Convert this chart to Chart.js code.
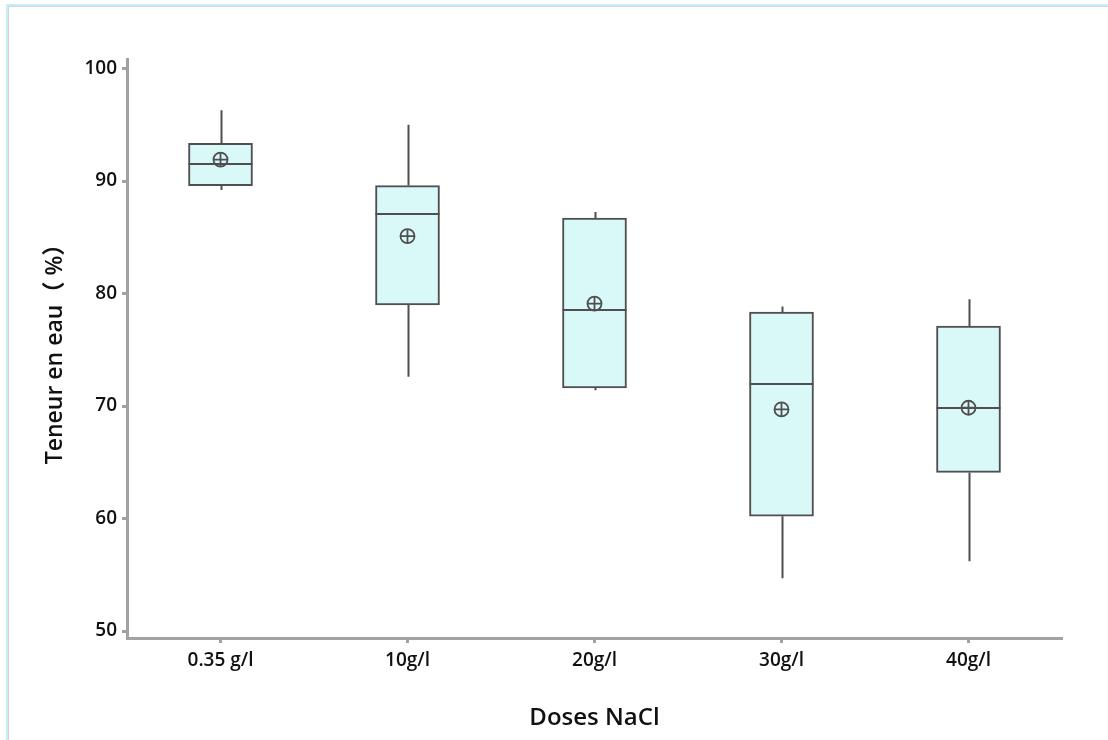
<!DOCTYPE html>
<html>
<head>
<meta charset="utf-8">
<script src="https://cdn.jsdelivr.net/npm/chart.js@4/dist/chart.umd.min.js"></script>
<style>
  html, body { margin: 0; padding: 0; background: #ffffff; overflow: hidden; }
  #wrap { position: relative; width: 1108px; height: 740px; }
  #frame { position: absolute; left: 6px; top: 4px; width: 1300px; height: 900px;
           border-left: 2px solid #c4eefa; border-top: 2px solid #c4eefa; }
  #frame2 { position: absolute; left: 8px; top: 6px; width: 1300px; height: 900px;
           border-left: 1px solid #d4d4d4; border-top: 1px solid #d4d4d4; }
  canvas { position: absolute; left: 0; top: 0; }
</style>
</head>
<body>
<div id="wrap">
  <div id="frame"></div>
  <div id="frame2"></div>
  <canvas id="c" width="1108" height="740"></canvas>
</div>
<script>
// ---- data ----
const categories = ['0.35 g/l', '10g/l', '20g/l', '30g/l', '40g/l'];
const whiskerMin = [89.2, 72.6, 71.4, 54.7, 56.2];
const q1Values   = [89.6, 79.0, 71.6, 60.2, 64.1];
const medians    = [91.5, 87.1, 78.5, 72.0, 69.8];
const q3Values   = [93.35, 89.6, 86.7, 78.35, 77.1];
const whiskerMax = [96.3, 95.0, 87.25, 78.85, 79.5];
const means      = [91.9, 85.1, 79.1, 69.7, 69.85];
const yTicks     = [50, 60, 70, 80, 90, 100];

const lineColor = '#4f4f4f';
const axisColor = '#a2a2a2';
const fontFamily = "'Open Sans', 'Noto Sans', 'Noto Sans CJK SC', sans-serif";

const boxPlugin = {
  id: 'boxExtras',
  beforeDatasetsDraw(chart) {
    // whiskers (behind the boxes)
    const ctx = chart.ctx;
    const y = chart.scales.y;
    const meta = chart.getDatasetMeta(0);
    ctx.save();
    ctx.strokeStyle = lineColor;
    ctx.lineWidth = 2;
    meta.data.forEach((bar, i) => {
      const x = Math.round(bar.x) + 0.5;
      ctx.beginPath();
      ctx.moveTo(x, y.getPixelForValue(q3Values[i]));
      ctx.lineTo(x, y.getPixelForValue(whiskerMax[i]));
      ctx.moveTo(x, y.getPixelForValue(q1Values[i]));
      ctx.lineTo(x, y.getPixelForValue(whiskerMin[i]));
      ctx.stroke();
    });
    ctx.restore();
  },
  afterDatasetDraw(chart, args) {
    if (args.index !== 0) return;
    const ctx = chart.ctx;
    const y = chart.scales.y;
    const meta = chart.getDatasetMeta(0);
    ctx.save();
    ctx.strokeStyle = lineColor;
    ctx.lineWidth = 2;
    meta.data.forEach((bar, i) => {
      const half = bar.width / 2;
      const py = Math.round(y.getPixelForValue(medians[i]));
      ctx.beginPath();
      ctx.moveTo(bar.x - half, py);
      ctx.lineTo(bar.x + half, py);
      ctx.stroke();
    });
    ctx.restore();
  }
};

new Chart(document.getElementById('c'), {
  type: 'bar',
  data: {
    labels: categories,
    datasets: [
      {
        label: 'Box',
        data: q1Values.map((v, i) => [v, q3Values[i]]),
        backgroundColor: '#d9f8f8',
        borderColor: lineColor,
        borderWidth: 2,
        borderSkipped: false,
        barThickness: 64,
        order: 2
      },
      {
        type: 'line',
        label: 'Mean circle',
        data: means,
        showLine: false,
        pointStyle: 'circle',
        pointRadius: 7,
        pointBorderWidth: 1.8,
        pointBorderColor: lineColor,
        pointBackgroundColor: 'rgba(0,0,0,0)',
        order: 1
      },
      {
        type: 'line',
        label: 'Mean cross',
        data: means,
        showLine: false,
        pointStyle: 'cross',
        pointRadius: 7,
        pointBorderWidth: 1.8,
        pointBorderColor: lineColor,
        pointBackgroundColor: 'rgba(0,0,0,0)',
        order: 0
      }
    ]
  },
  options: {
    responsive: false,
    animation: false,
    events: [],
    layout: { padding: { top: 59, right: 46, left: 0, bottom: 0 } },
    plugins: { legend: { display: false }, tooltip: { enabled: false } },
    scales: {
      x: {
        offset: true,
        grid: { display: true, drawOnChartArea: false, drawTicks: true, tickLength: 5, tickWidth: 3, tickColor: axisColor, offset: false },
        border: { display: true, color: axisColor, width: 3 },
        ticks: { color: '#111', padding: 6, font: { family: fontFamily, size: 19, weight: '600' } },
        title: { display: true, text: 'Doses NaCl', color: '#111', padding: { top: 0, bottom: 7 }, font: { family: fontFamily, size: 24, weight: '600' } },
        afterFit(scale) { scale.height = 102; }
      },
      y: {
        min: 49.38,
        max: 100.85,
        afterBuildTicks(scale) { scale.ticks = yTicks.map(v => ({ value: v })); },
        grid: { display: true, drawOnChartArea: false, drawTicks: true, tickLength: 5, tickWidth: 3, tickColor: axisColor },
        border: { display: true, color: axisColor, width: 3 },
        ticks: { color: '#111', padding: 5, font: { family: fontFamily, size: 19, weight: '600' } },
        title: { display: true, text: 'Teneur en eau（ %）', color: '#111', padding: { top: 42, bottom: 0 }, font: { family: fontFamily, size: 23, weight: '600' } },
        afterFit(scale) { scale.width = 127; }
      }
    }
  },
  plugins: [boxPlugin]
});
</script>
</body>
</html>
